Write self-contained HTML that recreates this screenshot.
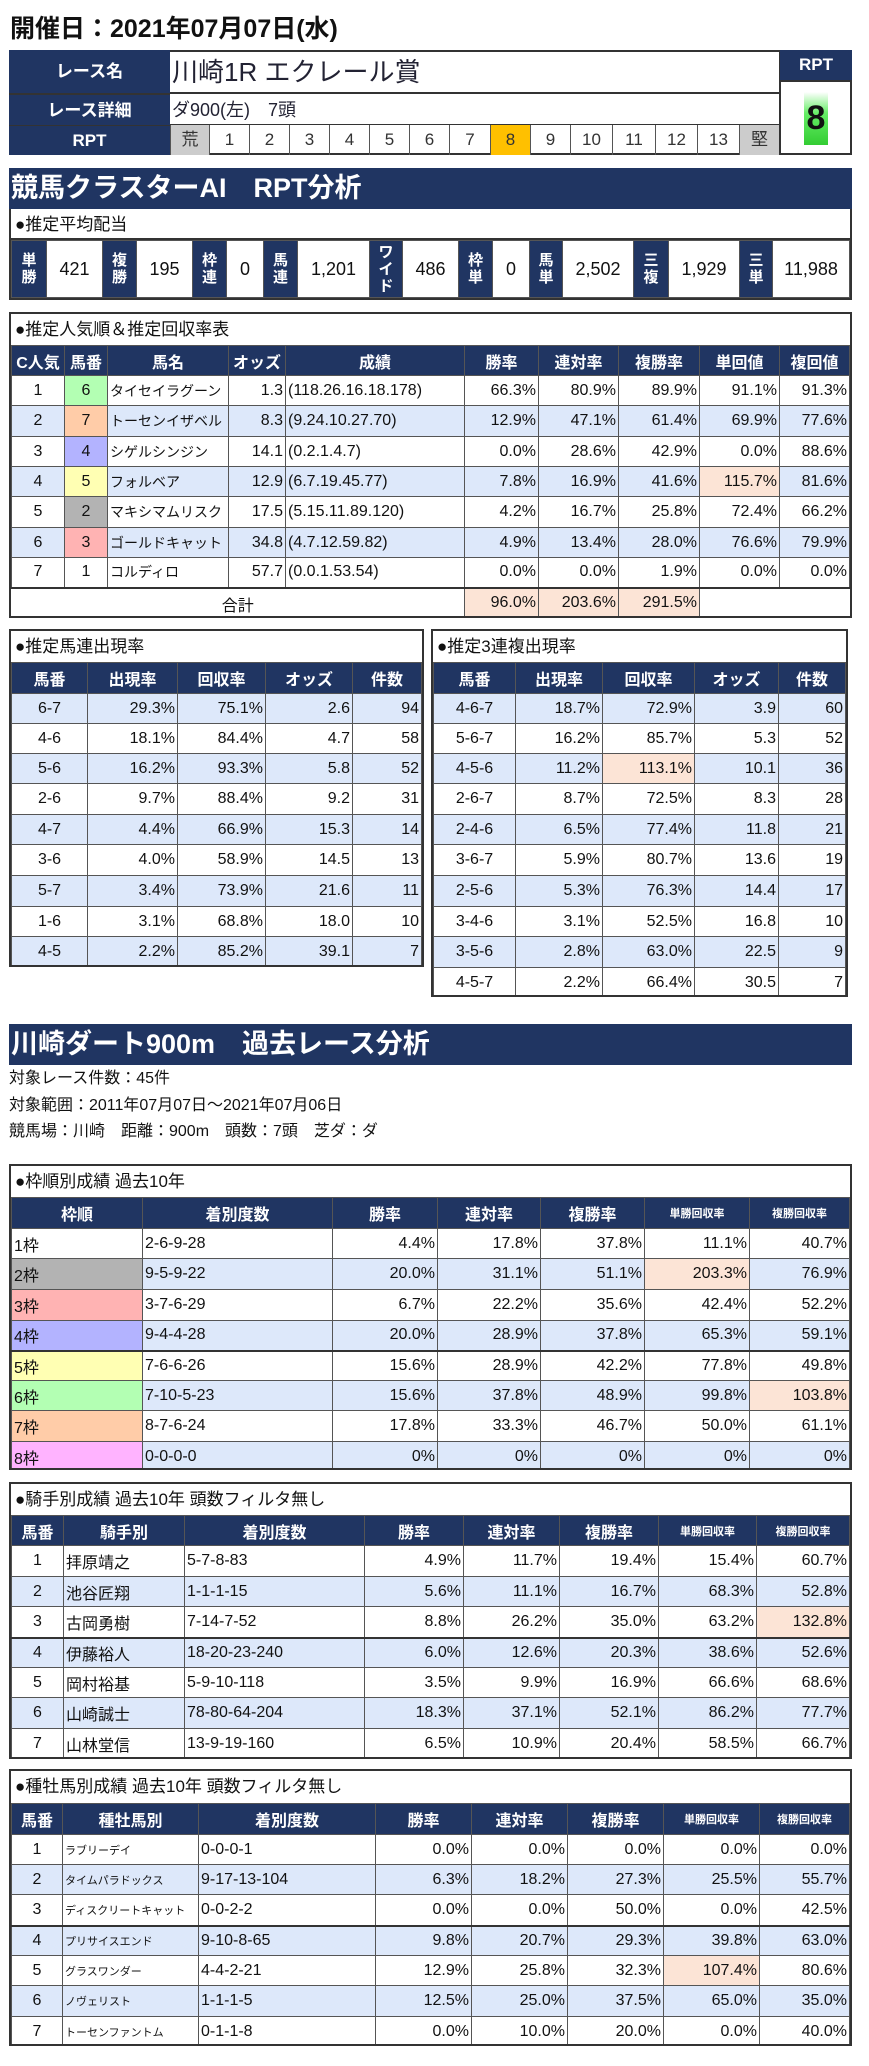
<!DOCTYPE html>
<html><head><meta charset="utf-8"><style>
*{box-sizing:border-box}
body{margin:0;width:869px;height:2066px;position:relative;background:#fff;font-family:"Liberation Sans","Noto Sans CJK JP",sans-serif;color:#111;overflow:hidden}
.a{position:absolute}
.nv{background:#203562;color:#fff;font-weight:bold}
.box{position:absolute;border:2px solid #333;background:#fff;left:9px;width:843px;overflow:hidden}
.cap{height:31px;line-height:31px;font-size:17px;padding-left:4px;border-bottom:2px solid #333}
table{border-collapse:collapse;table-layout:fixed;width:100%}
td,th{border:1px solid #555;padding:0 2px;white-space:nowrap;overflow:hidden;font-size:16px;font-weight:normal}
th{background:#203562;color:#fff;font-weight:bold;text-align:center;font-size:16px}
th.s{font-size:11px}
td{text-align:right}
.c{text-align:center}.l{text-align:left}
.b td{background:#dde8fa}
td.o{background:#fce4d6 !important}
.bar{position:absolute;left:9px;width:843px;background:#203562;color:#fff;font-weight:bold;font-size:27px;padding-left:2px}
.k1{background:#fff}.k2{background:#b3b3b3 !important}.k3{background:#ffb3b3 !important}.k4{background:#b3b3ff !important}.k5{background:#ffffb3 !important}.k6{background:#b3ffb3 !important}.k7{background:#ffcca8 !important}.k8{background:#ffb3ff !important}
.rp{position:absolute;top:125px;height:30px;border-left:1px solid #555;text-align:center;line-height:30px;font-size:17px;color:#333}
.pv td{height:57px;font-size:18px;text-align:center}
.pv td.nv{font-size:15px;line-height:17px;padding:0}
</style></head><body>
<div class="a" style="left:10px;top:12px;font-size:25px;font-weight:bold;line-height:34px">開催日：2021年07月07日(水)</div>

<div class="a" style="left:9px;top:50px;width:843px;height:105px;border:2px solid #333"></div>
<div class="a nv" style="left:9px;top:50px;width:161px;height:43px;line-height:43px;text-align:center;font-size:17px">レース名</div>
<div class="a nv" style="left:9px;top:93px;width:161px;height:32px;line-height:32px;text-align:center;font-size:17px;border-top:2px solid #333">レース詳細</div>
<div class="a nv" style="left:9px;top:125px;width:161px;height:30px;line-height:30px;text-align:center;font-size:17px;border-top:1px solid #333">RPT</div>
<div class="a" style="left:172px;top:52px;font-size:26px;line-height:40px;color:#223">川崎1R エクレール賞</div>
<div class="a" style="left:170px;top:92px;width:609px;border-top:2px solid #333"></div>
<div class="a" style="left:172px;top:95px;font-size:18px;line-height:30px;color:#223">ダ900(左)　7頭</div>
<div class="a" style="left:170px;top:124px;width:609px;border-top:1px solid #333"></div>
<div class="rp" style="left:170px;width:39px;background:#ccc">荒</div>
<div class="rp" style="left:209px;width:40px">1</div>
<div class="rp" style="left:249px;width:40px">2</div>
<div class="rp" style="left:289px;width:40px">3</div>
<div class="rp" style="left:329px;width:40px">4</div>
<div class="rp" style="left:369px;width:40px">5</div>
<div class="rp" style="left:409px;width:40px">6</div>
<div class="rp" style="left:449px;width:41px">7</div>
<div class="rp" style="left:490px;width:40px;background:#ffc000">8</div>
<div class="rp" style="left:530px;width:40px">9</div>
<div class="rp" style="left:570px;width:42px">10</div>
<div class="rp" style="left:612px;width:43px">11</div>
<div class="rp" style="left:655px;width:42px">12</div>
<div class="rp" style="left:697px;width:42px">13</div>
<div class="rp" style="left:739px;width:40px;background:#ccc">堅</div>
<div class="a" style="left:779px;top:50px;width:2px;height:105px;background:#333"></div>
<div class="a nv" style="left:780px;top:50px;width:72px;height:32px;line-height:30px;text-align:center;font-size:17px;border-bottom:2px solid #333">RPT</div>
<div class="a" style="left:804px;top:92px;width:24px;height:53px;background:linear-gradient(#fff,#6e6 40%,#3c3)"></div>
<div class="a" style="left:780px;top:92px;width:72px;text-align:center;font-size:34px;font-weight:bold;line-height:53px">8</div>

<div class="bar" style="top:168px;height:41px;line-height:41px">競馬クラスターAI　RPT分析</div>

<div class="box" style="top:209px;height:91px;border-top:0">
<div class="cap">●推定平均配当</div>
<table class="pv"><colgroup><col style="width:35px"><col style="width:56px"><col style="width:34px"><col style="width:56px"><col style="width:34px"><col style="width:37px"><col style="width:34px"><col style="width:72px"><col style="width:33px"><col style="width:56px"><col style="width:34px"><col style="width:37px"><col style="width:33px"><col style="width:71px"><col style="width:35px"><col style="width:71px"><col style="width:33px"><col></colgroup>
<tr><td class="nv">単<br>勝</td><td>421</td><td class="nv">複<br>勝</td><td>195</td><td class="nv">枠<br>連</td><td>0</td><td class="nv">馬<br>連</td><td>1,201</td><td class="nv">ワ<br>イ<br>ド</td><td>486</td><td class="nv">枠<br>単</td><td>0</td><td class="nv">馬<br>単</td><td>2,502</td><td class="nv">三<br>複</td><td>1,929</td><td class="nv">三<br>単</td><td>11,988</td></tr></table>
</div>

<div class="box" style="top:312px;height:306px">
<div class="cap" style="border-bottom:0">●推定人気順＆推定回収率表</div>
<table><colgroup><col style="width:53px"><col style="width:43px"><col style="width:121px"><col style="width:57px"><col style="width:179px"><col style="width:74px"><col style="width:80px"><col style="width:81px"><col style="width:80px"><col></colgroup>
<tr style="height:30px"><th>C人気</th><th>馬番</th><th>馬名</th><th>オッズ</th><th>成績</th><th>勝率</th><th>連対率</th><th>複勝率</th><th>単回値</th><th>複回値</th></tr>
<tr style="height:30px"><td class="c">1</td><td class="c k6">6</td><td class="l" style="font-size:14px">タイセイラグーン</td><td>1.3</td><td class="l">(118.26.16.18.178)</td><td>66.3%</td><td>80.9%</td><td>89.9%</td><td>91.1%</td><td>91.3%</td></tr>
<tr class="b" style="height:31px"><td class="c">2</td><td class="c k7">7</td><td class="l" style="font-size:14px">トーセンイザベル</td><td>8.3</td><td class="l">(9.24.10.27.70)</td><td>12.9%</td><td>47.1%</td><td>61.4%</td><td>69.9%</td><td>77.6%</td></tr>
<tr style="height:30px"><td class="c">3</td><td class="c k4">4</td><td class="l" style="font-size:14px">シゲルシンジン</td><td>14.1</td><td class="l">(0.2.1.4.7)</td><td>0.0%</td><td>28.6%</td><td>42.9%</td><td>0.0%</td><td>88.6%</td></tr>
<tr class="b" style="height:30px"><td class="c">4</td><td class="c k5">5</td><td class="l" style="font-size:14px">フォルベア</td><td>12.9</td><td class="l">(6.7.19.45.77)</td><td>7.8%</td><td>16.9%</td><td>41.6%</td><td class="o">115.7%</td><td>81.6%</td></tr>
<tr style="height:31px"><td class="c">5</td><td class="c k2">2</td><td class="l" style="font-size:14px">マキシマムリスク</td><td>17.5</td><td class="l">(5.15.11.89.120)</td><td>4.2%</td><td>16.7%</td><td>25.8%</td><td>72.4%</td><td>66.2%</td></tr>
<tr class="b" style="height:30px"><td class="c">6</td><td class="c k3">3</td><td class="l" style="font-size:14px">ゴールドキャット</td><td>34.8</td><td class="l">(4.7.12.59.82)</td><td>4.9%</td><td>13.4%</td><td>28.0%</td><td>76.6%</td><td>79.9%</td></tr>
<tr style="height:30px"><td class="c">7</td><td class="c">1</td><td class="l" style="font-size:14px">コルディロ</td><td>57.7</td><td class="l">(0.0.1.53.54)</td><td>0.0%</td><td>0.0%</td><td>1.9%</td><td>0.0%</td><td>0.0%</td></tr>
<tr style="height:31px;border-top:2px solid #333"><td colspan="5" class="c" style="border:0">合計</td><td class="o">96.0%</td><td class="o">203.6%</td><td class="o">291.5%</td><td colspan="2" style="border:0"></td></tr>
</table></div>

<div class="box" style="top:629px;left:9px;width:415px;height:338px">
<div class="cap" style="border-bottom:0">●推定馬連出現率</div>
<table><colgroup><col style="width:76px"><col style="width:90px"><col style="width:88px"><col style="width:87px"><col></colgroup>
<tr style="height:31px"><th>馬番</th><th>出現率</th><th>回収率</th><th>オッズ</th><th>件数</th></tr>
<tr class="b" style="height:30px"><td class="c">6-7</td><td>29.3%</td><td>75.1%</td><td>2.6</td><td>94</td></tr>
<tr style="height:30px"><td class="c">4-6</td><td>18.1%</td><td>84.4%</td><td>4.7</td><td>58</td></tr>
<tr class="b" style="height:30px"><td class="c">5-6</td><td>16.2%</td><td>93.3%</td><td>5.8</td><td>52</td></tr>
<tr style="height:31px"><td class="c">2-6</td><td>9.7%</td><td>88.4%</td><td>9.2</td><td>31</td></tr>
<tr class="b" style="height:30px"><td class="c">4-7</td><td>4.4%</td><td>66.9%</td><td>15.3</td><td>14</td></tr>
<tr style="height:31px"><td class="c">3-6</td><td>4.0%</td><td>58.9%</td><td>14.5</td><td>13</td></tr>
<tr class="b" style="height:31px"><td class="c">5-7</td><td>3.4%</td><td>73.9%</td><td>21.6</td><td>11</td></tr>
<tr style="height:30px"><td class="c">1-6</td><td>3.1%</td><td>68.8%</td><td>18.0</td><td>10</td></tr>
<tr class="b" style="height:31px"><td class="c">4-5</td><td>2.2%</td><td>85.2%</td><td>39.1</td><td>7</td></tr>
</table></div>

<div class="box" style="top:629px;left:431px;width:417px;height:368px">
<div class="cap" style="border-bottom:0">●推定3連複出現率</div>
<table><colgroup><col style="width:82px"><col style="width:87px"><col style="width:92px"><col style="width:84px"><col></colgroup>
<tr style="height:31px"><th>馬番</th><th>出現率</th><th>回収率</th><th>オッズ</th><th>件数</th></tr>
<tr class="b" style="height:30px"><td class="c">4-6-7</td><td>18.7%</td><td>72.9%</td><td>3.9</td><td>60</td></tr>
<tr style="height:30px"><td class="c">5-6-7</td><td>16.2%</td><td>85.7%</td><td>5.3</td><td>52</td></tr>
<tr class="b" style="height:30px"><td class="c">4-5-6</td><td>11.2%</td><td class="o">113.1%</td><td>10.1</td><td>36</td></tr>
<tr style="height:31px"><td class="c">2-6-7</td><td>8.7%</td><td>72.5%</td><td>8.3</td><td>28</td></tr>
<tr class="b" style="height:30px"><td class="c">2-4-6</td><td>6.5%</td><td>77.4%</td><td>11.8</td><td>21</td></tr>
<tr style="height:31px"><td class="c">3-6-7</td><td>5.9%</td><td>80.7%</td><td>13.6</td><td>19</td></tr>
<tr class="b" style="height:31px"><td class="c">2-5-6</td><td>5.3%</td><td>76.3%</td><td>14.4</td><td>17</td></tr>
<tr style="height:30px"><td class="c">3-4-6</td><td>3.1%</td><td>52.5%</td><td>16.8</td><td>10</td></tr>
<tr class="b" style="height:31px"><td class="c">3-5-6</td><td>2.8%</td><td>63.0%</td><td>22.5</td><td>9</td></tr>
<tr style="height:30px"><td class="c">4-5-7</td><td>2.2%</td><td>66.4%</td><td>30.5</td><td>7</td></tr>
</table></div>

<div class="bar" style="top:1024px;height:41px;line-height:41px">川崎ダート900m　過去レース分析</div>
<div class="a" style="left:9px;top:1066px;font-size:16px;line-height:26.5px">対象レース件数：45件<br>対象範囲：2011年07月07日～2021年07月06日<br>競馬場：川崎　距離：900m　頭数：7頭　芝ダ：ダ</div>

<div class="box" style="top:1164px;height:306px">
<div class="cap" style="height:31px;border-bottom:0">●枠順別成績 過去10年</div>
<table><colgroup><col style="width:131px"><col style="width:190px"><col style="width:105px"><col style="width:103px"><col style="width:104px"><col style="width:105px"><col></colgroup>
<tr style="height:31px"><th>枠順</th><th>着別度数</th><th>勝率</th><th>連対率</th><th>複勝率</th><th class="s">単勝回収率</th><th class="s">複勝回収率</th></tr>
<tr style="height:30px"><td class="l k1">1枠</td><td class="l">2-6-9-28</td><td>4.4%</td><td>17.8%</td><td>37.8%</td><td>11.1%</td><td>40.7%</td></tr>
<tr class="b" style="height:31px"><td class="l k2">2枠</td><td class="l">9-5-9-22</td><td>20.0%</td><td>31.1%</td><td>51.1%</td><td class="o">203.3%</td><td>76.9%</td></tr>
<tr style="height:31px"><td class="l k3">3枠</td><td class="l">3-7-6-29</td><td>6.7%</td><td>22.2%</td><td>35.6%</td><td>42.4%</td><td>52.2%</td></tr>
<tr class="b" style="height:30px"><td class="l k4">4枠</td><td class="l">9-4-4-28</td><td>20.0%</td><td>28.9%</td><td>37.8%</td><td>65.3%</td><td>59.1%</td></tr>
<tr style="height:30px;border-top:2px solid #333"><td class="l k5">5枠</td><td class="l">7-6-6-26</td><td>15.6%</td><td>28.9%</td><td>42.2%</td><td>77.8%</td><td>49.8%</td></tr>
<tr class="b" style="height:30px"><td class="l k6">6枠</td><td class="l">7-10-5-23</td><td>15.6%</td><td>37.8%</td><td>48.9%</td><td>99.8%</td><td class="o">103.8%</td></tr>
<tr style="height:31px"><td class="l k7">7枠</td><td class="l">8-7-6-24</td><td>17.8%</td><td>33.3%</td><td>46.7%</td><td>50.0%</td><td>61.1%</td></tr>
<tr class="b" style="height:31px"><td class="l k8">8枠</td><td class="l">0-0-0-0</td><td>0%</td><td>0%</td><td>0%</td><td>0%</td><td>0%</td></tr>
</table></div>

<div class="box" style="top:1482px;height:277px">
<div class="cap" style="border-bottom:0">●騎手別成績 過去10年 頭数フィルタ無し</div>
<table><colgroup><col style="width:52px"><col style="width:121px"><col style="width:180px"><col style="width:99px"><col style="width:96px"><col style="width:99px"><col style="width:98px"><col></colgroup>
<tr style="height:30px"><th>馬番</th><th>騎手別</th><th>着別度数</th><th>勝率</th><th>連対率</th><th>複勝率</th><th class="s">単勝回収率</th><th class="s">複勝回収率</th></tr>
<tr style="height:31px"><td class="c">1</td><td class="l">拝原靖之</td><td class="l">5-7-8-83</td><td>4.9%</td><td>11.7%</td><td>19.4%</td><td>15.4%</td><td>60.7%</td></tr>
<tr class="b" style="height:30px"><td class="c">2</td><td class="l">池谷匠翔</td><td class="l">1-1-1-15</td><td>5.6%</td><td>11.1%</td><td>16.7%</td><td>68.3%</td><td>52.8%</td></tr>
<tr style="height:31px"><td class="c">3</td><td class="l">古岡勇樹</td><td class="l">7-14-7-52</td><td>8.8%</td><td>26.2%</td><td>35.0%</td><td>63.2%</td><td class="o">132.8%</td></tr>
<tr class="b" style="height:30px;border-top:2px solid #333"><td class="c">4</td><td class="l">伊藤裕人</td><td class="l">18-20-23-240</td><td>6.0%</td><td>12.6%</td><td>20.3%</td><td>38.6%</td><td>52.6%</td></tr>
<tr style="height:30px"><td class="c">5</td><td class="l">岡村裕基</td><td class="l">5-9-10-118</td><td>3.5%</td><td>9.9%</td><td>16.9%</td><td>66.6%</td><td>68.6%</td></tr>
<tr class="b" style="height:31px"><td class="c">6</td><td class="l">山崎誠士</td><td class="l">78-80-64-204</td><td>18.3%</td><td>37.1%</td><td>52.1%</td><td>86.2%</td><td>77.7%</td></tr>
<tr style="height:31px"><td class="c">7</td><td class="l">山林堂信</td><td class="l">13-9-19-160</td><td>6.5%</td><td>10.9%</td><td>20.4%</td><td>58.5%</td><td>66.7%</td></tr>
</table></div>

<div class="box" style="top:1769px;height:277px">
<div class="cap" style="height:32px;line-height:32px;border-bottom:0">●種牡馬別成績 過去10年 頭数フィルタ無し</div>
<table><colgroup><col style="width:51px"><col style="width:136px"><col style="width:177px"><col style="width:96px"><col style="width:96px"><col style="width:96px"><col style="width:96px"><col></colgroup>
<tr style="height:31px"><th>馬番</th><th>種牡馬別</th><th>着別度数</th><th>勝率</th><th>連対率</th><th>複勝率</th><th class="s">単勝回収率</th><th class="s">複勝回収率</th></tr>
<tr style="height:30px"><td class="c">1</td><td class="l" style="font-size:11px">ラブリーデイ</td><td class="l">0-0-0-1</td><td>0.0%</td><td>0.0%</td><td>0.0%</td><td>0.0%</td><td>0.0%</td></tr>
<tr class="b" style="height:30px"><td class="c">2</td><td class="l" style="font-size:11px">タイムパラドックス</td><td class="l">9-17-13-104</td><td>6.3%</td><td>18.2%</td><td>27.3%</td><td>25.5%</td><td>55.7%</td></tr>
<tr style="height:31px"><td class="c">3</td><td class="l" style="font-size:11px">ディスクリートキャット</td><td class="l">0-0-2-2</td><td>0.0%</td><td>0.0%</td><td>50.0%</td><td>0.0%</td><td>42.5%</td></tr>
<tr class="b" style="height:30px;border-top:2px solid #333"><td class="c">4</td><td class="l" style="font-size:11px">プリサイスエンド</td><td class="l">9-10-8-65</td><td>9.8%</td><td>20.7%</td><td>29.3%</td><td>39.8%</td><td>63.0%</td></tr>
<tr style="height:30px"><td class="c">5</td><td class="l" style="font-size:11px">グラスワンダー</td><td class="l">4-4-2-21</td><td>12.9%</td><td>25.8%</td><td>32.3%</td><td class="o">107.4%</td><td>80.6%</td></tr>
<tr class="b" style="height:31px"><td class="c">6</td><td class="l" style="font-size:11px">ノヴェリスト</td><td class="l">1-1-1-5</td><td>12.5%</td><td>25.0%</td><td>37.5%</td><td>65.0%</td><td>35.0%</td></tr>
<tr style="height:31px"><td class="c">7</td><td class="l" style="font-size:11px">トーセンファントム</td><td class="l">0-1-1-8</td><td>0.0%</td><td>10.0%</td><td>20.0%</td><td>0.0%</td><td>40.0%</td></tr>
</table></div>
</body></html>
